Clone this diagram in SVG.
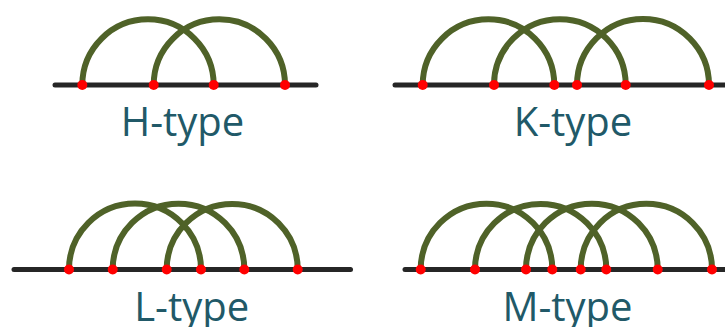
<svg xmlns="http://www.w3.org/2000/svg" width="725" height="327" viewBox="0 0 725 327">
<style>
.arc{fill:none;stroke:#4F6228;stroke-width:6}
.axis{stroke:#262626;stroke-width:5;stroke-linecap:round}
.dot{fill:#FF0000}
.lbl{font-family:"Open Sans","Noto Sans",sans-serif;font-size:40px;fill:#215968;text-anchor:middle}
</style>
<rect width="725" height="327" fill="#FFFFFF"/>
<g id="connectors">
<g id="h-arcs">
<path class="arc" d="M82.3 85 A65.7 65.7 0 0 1 213.7 85"/>
<path class="arc" d="M153.7 85 A65.65 65.65 0 0 1 285 85"/>
</g>
<g id="k-arcs">
<path class="arc" d="M422.7 85 A65.8 65.8 0 0 1 554.3 85"/>
<path class="arc" d="M494 85 A65.85 65.85 0 0 1 625.7 85"/>
<path class="arc" d="M577 85 A66 66 0 0 1 709 85"/>
</g>
<g id="l-arcs">
<path class="arc" d="M69 269.5 A66 66 0 0 1 201 269.5"/>
<path class="arc" d="M112.7 269.5 A65.8 65.8 0 0 1 244.3 269.5"/>
<path class="arc" d="M166.7 269.5 A65.5 65.5 0 0 1 297.7 269.5"/>
</g>
<g id="m-arcs">
<path class="arc" d="M420.7 269.5 A65.8 65.8 0 0 1 552.3 269.5"/>
<path class="arc" d="M475 269.5 A65.65 65.65 0 0 1 606.3 269.5"/>
<path class="arc" d="M526 269.5 A65.85 65.85 0 0 1 657.7 269.5"/>
<path class="arc" d="M580.7 269.5 A65.65 65.65 0 0 1 712 269.5"/>
</g>
</g>
<g id="h-type">
<line class="axis" x1="55" y1="85" x2="316" y2="85"/>
<circle class="dot" cx="82.3" cy="85" r="5"/>
<circle class="dot" cx="153.7" cy="85" r="5"/>
<circle class="dot" cx="213.7" cy="85" r="5"/>
<circle class="dot" cx="285" cy="85" r="5"/>
<text class="lbl" x="182.5" y="136">H-type</text>
</g>
<g id="k-type">
<line class="axis" x1="395" y1="85" x2="730" y2="85"/>
<circle class="dot" cx="422.7" cy="85" r="5"/>
<circle class="dot" cx="494" cy="85" r="5"/>
<circle class="dot" cx="554.3" cy="85" r="5"/>
<circle class="dot" cx="577" cy="85" r="5"/>
<circle class="dot" cx="625.7" cy="85" r="5"/>
<circle class="dot" cx="709" cy="85" r="5"/>
<text class="lbl" x="573" y="136">K-type</text>
</g>
<g id="l-type">
<line class="axis" x1="14" y1="269.5" x2="350.5" y2="269.5"/>
<circle class="dot" cx="69" cy="269.5" r="5"/>
<circle class="dot" cx="112.7" cy="269.5" r="5"/>
<circle class="dot" cx="166.7" cy="269.5" r="5"/>
<circle class="dot" cx="201" cy="269.5" r="5"/>
<circle class="dot" cx="244.3" cy="269.5" r="5"/>
<circle class="dot" cx="297.7" cy="269.5" r="5"/>
<text class="lbl" x="191.7" y="320.5">L-type</text>
</g>
<g id="m-type">
<line class="axis" x1="405" y1="269.5" x2="730" y2="269.5"/>
<circle class="dot" cx="420.7" cy="269.5" r="5"/>
<circle class="dot" cx="475" cy="269.5" r="5"/>
<circle class="dot" cx="526" cy="269.5" r="5"/>
<circle class="dot" cx="552.3" cy="269.5" r="5"/>
<circle class="dot" cx="580.7" cy="269.5" r="5"/>
<circle class="dot" cx="606.3" cy="269.5" r="5"/>
<circle class="dot" cx="657.7" cy="269.5" r="5"/>
<circle class="dot" cx="712" cy="269.5" r="5"/>
<text class="lbl" x="567.5" y="320.5">M-type</text>
</g>
</svg>
